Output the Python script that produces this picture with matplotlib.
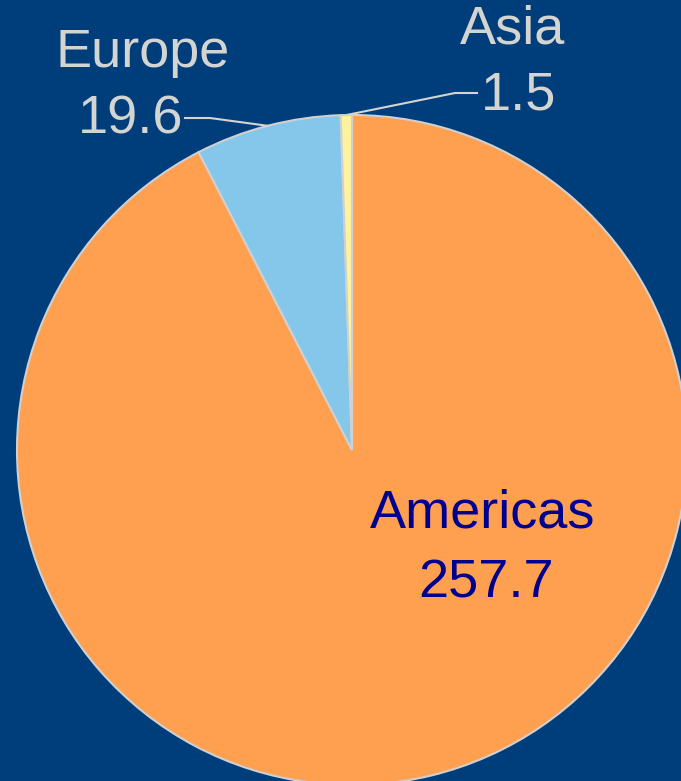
import matplotlib.pyplot as plt
import numpy as np

# data
regions = ["Americas", "Europe", "Asia"]
values = [257.7, 19.6, 1.5]
colors = ["#FF9F50", "#85C7EA", "#FFF29E"]

bg = "#003E7B"
W, H = 681, 781

fig = plt.figure(figsize=(W / 100, H / 100), dpi=100, facecolor=bg)
ax = fig.add_axes([0, 0, 1, 1])
ax.set_facecolor(bg)

cx, cy, r = 352, H - 450, 335
wedges, _ = ax.pie(values, colors=colors, startangle=90, counterclock=False,
                   center=(cx, cy), radius=r,
                   wedgeprops=dict(edgecolor="#D0D0D0", linewidth=1.5))
ax.set_xlim(0, W)
ax.set_ylim(0, H)
ax.set_aspect("equal")
ax.axis("off")

font = "Liberation Sans"
grey = "#D4D4D0"
fs = 39

# Americas label inside the slice
ax.text(483, H - 513, regions[0], ha="center", va="center", fontsize=fs,
        color="#000090", family=font)
ax.text(486, H - 583, f"{values[0]:.1f}", ha="center", va="center", fontsize=fs,
        color="#000090", family=font)

# outside labels with leader lines
def edge_point(w):
    mid = np.deg2rad((w.theta1 + w.theta2) / 2)
    return cx + r * np.cos(mid), cy + r * np.sin(mid)

# Europe
ex, ey = edge_point(wedges[1])
ax.plot([185, 210, ex], [H - 118, H - 118, ey], color=grey, lw=1.5)
ax.text(143, H - 53, regions[1], ha="center", va="center", fontsize=fs,
        color=grey, family=font)
ax.text(131, H - 119, f"{values[1]:.1f}", ha="center", va="center", fontsize=fs,
        color=grey, family=font)

# Asia
axx, ayy = edge_point(wedges[2])
ax.plot([axx, 455, 477], [ayy, H - 93, H - 93], color=grey, lw=1.5)
ax.text(513, H - 30, regions[2], ha="center", va="center", fontsize=fs,
        color=grey, family=font)
ax.text(519, H - 96, f"{values[2]:.1f}", ha="center", va="center", fontsize=fs,
        color=grey, family=font)

fig.savefig("out.png", dpi=100, facecolor=bg)
